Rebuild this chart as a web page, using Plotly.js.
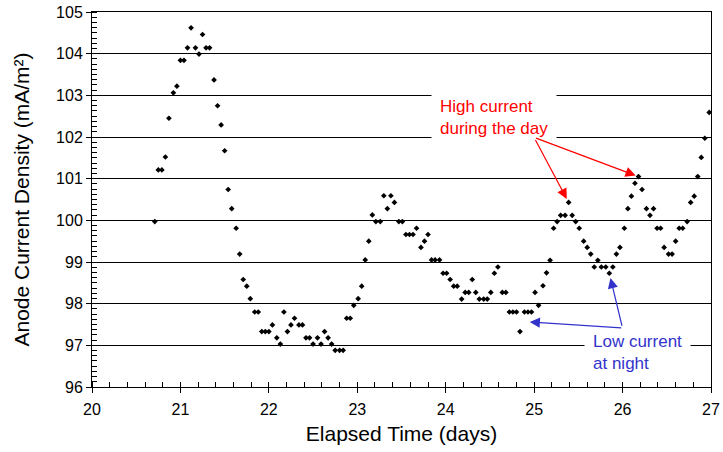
<!DOCTYPE html>
<html>
<head>
<meta charset="utf-8">
<script src="https://cdn.plot.ly/plotly-3.0.1.min.js"></script>
<style>html,body{margin:0;padding:0;background:#fff;}#chart{width:723px;height:452px;}</style>
</head>
<body>
<div id="chart"></div>
<script>
// Elapsed time (days), roughly hourly readings
var elapsedDays = [
  20.71, 20.75, 20.79, 20.83, 20.87, 20.92, 20.96, 21.00, 21.04, 21.08,
  21.12, 21.17, 21.21, 21.25, 21.29, 21.33, 21.38, 21.42, 21.46, 21.50,
  21.54, 21.58, 21.63, 21.67, 21.71, 21.75, 21.79, 21.84, 21.88, 21.92,
  21.96, 22.00, 22.04, 22.09, 22.13, 22.17, 22.21, 22.25, 22.29, 22.34,
  22.38, 22.42, 22.46, 22.50, 22.55, 22.59, 22.63, 22.67, 22.71, 22.75,
  22.80, 22.84, 22.88, 22.92, 22.96, 23.01, 23.05, 23.09, 23.13, 23.17,
  23.21, 23.26, 23.30, 23.34, 23.38, 23.42, 23.47, 23.51, 23.55, 23.59,
  23.63, 23.67, 23.72, 23.76, 23.80, 23.84, 23.88, 23.93, 23.97, 24.01,
  24.05, 24.09, 24.13, 24.18, 24.22, 24.26, 24.30, 24.34, 24.38, 24.43,
  24.47, 24.51, 24.55, 24.59, 24.64, 24.68, 24.72, 24.76, 24.80, 24.84,
  24.89, 24.93, 24.97, 25.01, 25.05, 25.10, 25.14, 25.18, 25.22, 25.26,
  25.30, 25.35, 25.39, 25.43, 25.47, 25.51, 25.56, 25.60, 25.64, 25.68,
  25.72, 25.76, 25.81, 25.85, 25.89, 25.93, 25.97, 26.02, 26.06, 26.10,
  26.14, 26.18, 26.22, 26.27, 26.31, 26.35, 26.39, 26.43, 26.47, 26.52,
  26.56, 26.60, 26.64, 26.68, 26.73, 26.77, 26.81, 26.85, 26.89, 26.93, 26.98
];
// Anode current density (mA/m2)
var currentDensity = [
  99.97, 101.21, 101.21, 101.52, 102.45, 103.06, 103.22, 103.84, 103.84, 104.14,
  104.62, 104.14, 103.99, 104.46, 104.14, 104.14, 103.37, 102.75, 102.29, 101.67,
  100.74, 100.28, 99.81, 99.19, 98.58, 98.42, 98.12, 97.80, 97.80, 97.33,
  97.33, 97.33, 97.49, 97.18, 97.03, 97.80, 97.33, 97.49, 97.65, 97.49,
  97.49, 97.18, 97.18, 97.03, 97.18, 97.03, 97.33, 97.18, 97.03, 96.88,
  96.88, 96.88, 97.65, 97.65, 97.96, 98.12, 98.42, 99.05, 99.50, 100.13,
  99.97, 99.97, 100.59, 100.28, 100.59, 100.43, 99.97, 99.97, 99.66, 99.66,
  99.66, 99.81, 99.35, 99.50, 99.66, 99.05, 99.05, 99.05, 98.73, 98.73,
  98.58, 98.42, 98.42, 98.11, 98.27, 98.27, 98.58, 98.27, 98.11, 98.11,
  98.11, 98.27, 98.73, 98.88, 98.27, 98.27, 97.80, 97.80, 97.80, 97.33,
  97.80, 97.80, 97.80, 98.27, 97.96, 98.43, 98.74, 99.04, 99.81, 99.97,
  100.12, 100.12, 100.43, 100.12, 99.97, 99.81, 99.50, 99.35, 99.19, 98.88,
  99.04, 98.88, 98.88, 98.73, 98.88, 99.19, 99.35, 99.81, 100.28, 100.58,
  100.89, 101.05, 100.74, 100.28, 100.12, 100.28, 99.81, 99.81, 99.35, 99.19,
  99.19, 99.50, 99.81, 99.81, 99.97, 100.43, 100.58, 101.05, 101.51, 101.97, 102.59
];
var xTickVals = [20, 21, 22, 23, 24, 25, 26, 27];
var yTickVals = [96, 97, 98, 99, 100, 101, 102, 103, 104, 105];
var highText = 'High current<br>during the day';
var lowText = 'Low current<br>at night';
var xTitle = 'Elapsed Time (days)';
var yTitle = 'Anode Current Density (mA/m\u00b2)';

var FONT = 'Liberation Sans, Arial, Helvetica, sans-serif';
var RED = '#ff0000';
var BLUE = '#3333cc';

var traces = [
  {
    x: elapsedDays, y: currentDensity, type: 'scatter', mode: 'markers',
    marker: {symbol: 'diamond', size: 4.4, color: '#000000', line: {width: 0}},
    hoverinfo: 'skip', showlegend: false
  },
  { x: [], y: [], xaxis: 'x2', yaxis: 'y2', type: 'scatter', mode: 'markers', showlegend: false }
];

var hiPeak = 112, hiPeak2 = 131, lowPt = 123;

var layout = {
  width: 723, height: 452,
  margin: {l: 92, r: 12, t: 12, b: 65, pad: 0},
  paper_bgcolor: '#ffffff', plot_bgcolor: '#ffffff',
  showlegend: false,
  font: {family: FONT, color: '#000000', size: 16},
  xaxis: {
    range: [20, 27], tickvals: xTickVals, ticktext: xTickVals.map(String),
    ticks: 'outside', ticklen: 5, tickwidth: 1, tickcolor: '#000',
    showline: true, linecolor: '#000', linewidth: 1, mirror: true,
    showgrid: false, zeroline: false, ticklabelstandoff: 3,
    minor: {dtick: 0.2, ticks: 'inside', ticklen: 5, tickwidth: 1, tickcolor: '#000', showgrid: false},
    tickfont: {family: FONT, size: 16, color: '#000'},
    title: {text: xTitle, font: {family: FONT, size: 21, color: '#000'}, standoff: 9},
    automargin: false, fixedrange: true
  },
  yaxis: {
    range: [96, 105], tickvals: yTickVals, ticktext: yTickVals.map(String),
    ticks: 'outside', ticklen: 5, tickwidth: 1, tickcolor: '#000',
    showline: true, linecolor: '#000', linewidth: 1, mirror: true,
    showgrid: true, gridcolor: '#000', gridwidth: 1, zeroline: false,
    minor: {dtick: 0.125, tick0: 96, ticks: 'inside', ticklen: 5, tickwidth: 1, tickcolor: '#000', showgrid: false},
    tickfont: {family: FONT, size: 16, color: '#000'},
    title: {text: yTitle, font: {family: FONT, size: 21, color: '#000'}, standoff: 20},
    automargin: false, fixedrange: true
  },
  xaxis2: {
    overlaying: 'x', anchor: 'y2', side: 'bottom', range: [20, 27], tickvals: xTickVals,
    ticks: 'inside', ticklen: 5, tickwidth: 1, tickcolor: '#000',
    showticklabels: false, showgrid: false, showline: false, zeroline: false, fixedrange: true
  },
  yaxis2: {
    overlaying: 'y', anchor: 'x2', side: 'left', range: [96, 105], tickvals: yTickVals,
    ticks: 'inside', ticklen: 5, tickwidth: 1, tickcolor: '#000',
    showticklabels: false, showgrid: false, showline: false, zeroline: false, fixedrange: true
  },
  annotations: [
    {
      xref: 'x', yref: 'y', x: 24.55, y: 102.48, text: highText, showarrow: false,
      align: 'left', xanchor: 'center', yanchor: 'middle',
      bgcolor: '#ffffff', borderpad: 8, font: {family: FONT, size: 17, color: RED}
    },
    {
      xref: 'x', yref: 'y', x: 26.17, y: 96.83, text: lowText, showarrow: false,
      align: 'left', xanchor: 'center', yanchor: 'middle',
      bgcolor: '#ffffff', borderpad: 8, font: {family: FONT, size: 17, color: BLUE}
    },
    {
      xref: 'x', yref: 'y', x: elapsedDays[hiPeak], y: currentDensity[hiPeak], text: '',
      showarrow: true, arrowhead: 2, arrowsize: 1.7, arrowwidth: 1.2, arrowcolor: RED,
      standoff: 4, axref: 'pixel', ayref: 'pixel', ax: -34, ay: -64
    },
    {
      xref: 'x', yref: 'y', x: elapsedDays[hiPeak2], y: currentDensity[hiPeak2], text: '',
      showarrow: true, arrowhead: 2, arrowsize: 1.7, arrowwidth: 1.2, arrowcolor: RED,
      standoff: 3, axref: 'pixel', ayref: 'pixel', ax: -104, ay: -39
    },
    {
      xref: 'x', yref: 'y', x: 24.95, y: 97.56, text: '',
      showarrow: true, arrowhead: 2, arrowsize: 1.7, arrowwidth: 1.2, arrowcolor: BLUE,
      standoff: 0, axref: 'pixel', ayref: 'pixel', ax: 93, ay: 6
    },
    {
      xref: 'x', yref: 'y', x: elapsedDays[lowPt], y: currentDensity[lowPt], text: '',
      showarrow: true, arrowhead: 2, arrowsize: 1.7, arrowwidth: 1.2, arrowcolor: BLUE,
      standoff: 5, axref: 'pixel', ayref: 'pixel', ax: 13, ay: 54
    }
  ]
};

Plotly.newPlot('chart', traces, layout, {displayModeBar: false, staticPlot: true});
</script>
</body>
</html>
